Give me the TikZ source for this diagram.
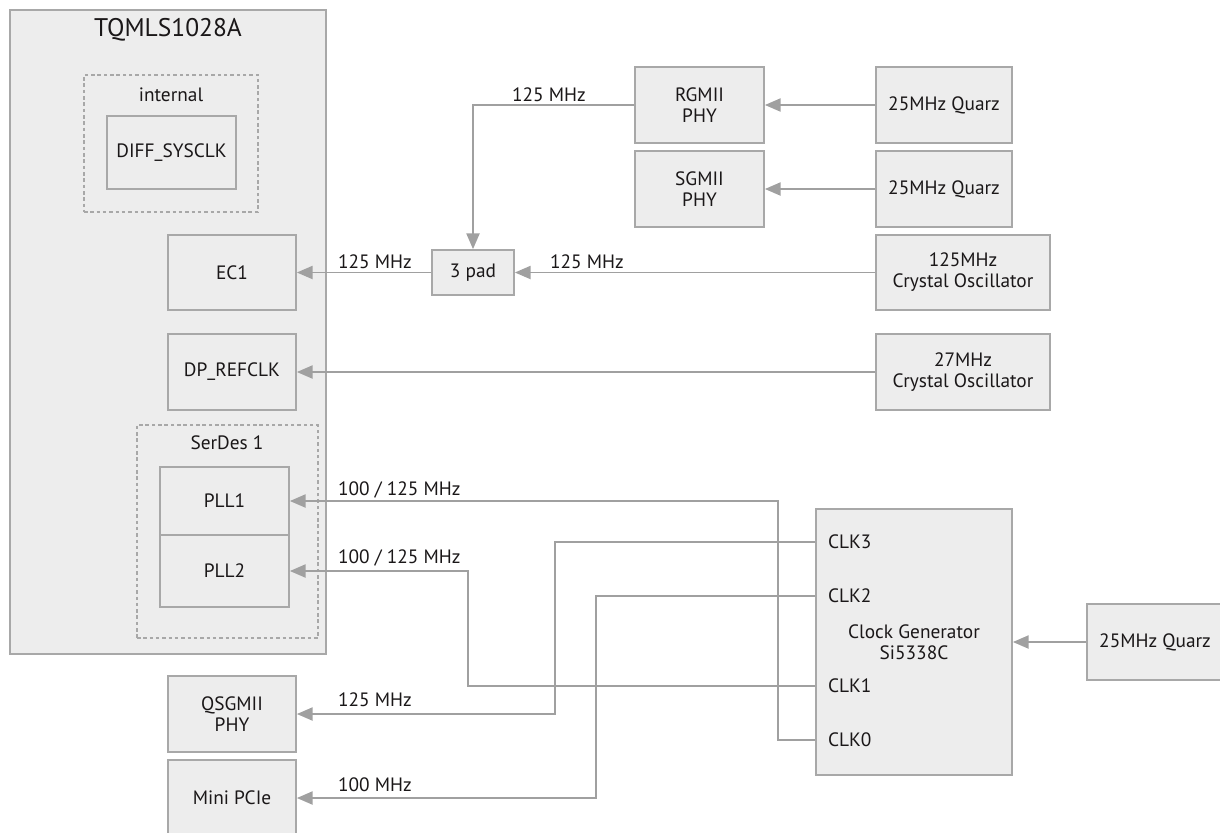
\documentclass[tikz,border=0pt]{standalone}
\usepackage{fontspec}
\setmainfont{PT Sans}
\usetikzlibrary{arrows.meta}
\definecolor{cFill}{HTML}{EDEDED}
\definecolor{cEdge}{HTML}{A8A8A8}
\definecolor{cLine}{HTML}{A0A0A0}
\definecolor{cText}{HTML}{1A1718}
\tikzset{
  blk/.style={
    rectangle, draw=cEdge, fill=cFill, line width=1pt,
    align=center, text=cText, inner sep=1pt,
    font=\fontsize{11}{12}\selectfont
  },
  grp/.style={rectangle, draw=cEdge, line width=0.8pt, dash pattern=on 2pt off 1.6pt},
  arrow/.style={-{Triangle[length=9pt, width=7.5pt]}, line width=1pt, cLine},
  lbl/.style={font=\fontsize{11}{12}\selectfont, text=cText, inner sep=1pt},
}

\begin{document}
\begin{tikzpicture}[x=0.2mm, y=-0.2mm]
  \useasboundingbox (0,0) rectangle (1220,832);

  % Module
  \node[blk, minimum width=6.32cm, minimum height=12.88cm] (chip) at (168,332) {};
  \node[lbl, font=\fontsize{14.5}{16}\selectfont] (chiptitle) at (168,30) {TQMLS1028A};

  % internal clock
  \node[grp, minimum width=3.48cm, minimum height=2.74cm] (internal) at (171,143.5) {};
  \node[lbl] (internaltitle) at (171,95) {internal};
  \node[blk, minimum width=2.58cm, minimum height=1.46cm] (diffsys) at (171.5,152.5) {DIFF\_SYSCLK};

  % Clock inputs
  \node[blk, minimum width=2.56cm, minimum height=1.5cm] (ec1) at (232,272.5) {EC1};
  \node[blk, minimum width=2.56cm, minimum height=1.52cm] (dpref) at (232,372) {DP\_REFCLK};

  % SerDes
  \node[grp, minimum width=3.62cm, minimum height=4.26cm] (serdes) at (227.5,531.5) {};
  \node[lbl] (serdestitle) at (227,443) {SerDes 1};
  \node[blk, minimum width=2.58cm, minimum height=1.36cm] (pll1) at (224.5,501) {PLL1};
  \node[blk, minimum width=2.58cm, minimum height=1.44cm] (pll2) at (224.5,571) {PLL2};

  % Peripherals
  \node[blk, minimum width=2.56cm, minimum height=1.52cm] (qsgmii) at (232,714) {QSGMII\\PHY};
  \node[blk, minimum width=2.56cm, minimum height=1.52cm] (minipcie) at (232,798) {Mini PCIe};

  \node[blk, minimum width=1.64cm, minimum height=0.9cm] (pad) at (473,272.5) {3 pad};
  \node[blk, minimum width=2.58cm, minimum height=1.52cm] (rgmii) at (699.5,105) {RGMII\\PHY};
  \node[blk, minimum width=2.58cm, minimum height=1.52cm] (sgmii) at (699.5,189) {SGMII\\PHY};

  % Oscillators
  \node[blk, minimum width=2.72cm, minimum height=1.52cm] (quarz1) at (944,105) {25MHz Quarz};
  \node[blk, minimum width=2.72cm, minimum height=1.52cm] (quarz2) at (944,189) {25MHz Quarz};
  \node[blk, minimum width=3.48cm, minimum height=1.5cm] (osc125) at (963,272.5) {125MHz\\Crystal Oscillator};
  \node[blk, minimum width=3.48cm, minimum height=1.52cm] (osc27) at (963,372) {27MHz\\Crystal Oscillator};

  % Clock generator
  \node[blk, minimum width=3.92cm, minimum height=5.32cm] (clkgen) at (914,642) {Clock Generator\\Si5338C};
  \node[lbl, anchor=west] (clk3) at (826,542) {CLK3};
  \node[lbl, anchor=west] (clk2) at (826,596) {CLK2};
  \node[lbl, anchor=west] (clk1) at (826,686) {CLK1};
  \node[lbl, anchor=west] (clk0) at (826,740) {CLK0};
  \node[blk, minimum width=2.72cm, minimum height=1.52cm] (quarz3) at (1155,642) {25MHz Quarz};

  % Arrows
  \draw[arrow] (quarz1) -- (rgmii);
  \draw[arrow] (quarz2) -- (sgmii);
  \draw[arrow] (rgmii.west) -| (pad.north);
  \draw[arrow] (osc125) -- (pad);
  \draw[arrow] (pad) -- (ec1);
  \draw[arrow] (osc27) -- (dpref);
  \draw[arrow] (quarz3) -- (clkgen);
  \draw[arrow] (clkgen.west |- clk0) -- ++(-37,0) |- (pll1.east);
  \draw[arrow] (clkgen.west |- clk1) -- ++(-347,0) |- (pll2.east);
  \draw[arrow] (clkgen.west |- clk3) -- ++(-260,0) |- (qsgmii.east);
  \draw[arrow] (clkgen.west |- clk2) -- ++(-219,0) |- (minipcie.east);

  % Frequencies
  \node[lbl, anchor=west] (frgmii) at (510,95) {125 MHz};
  \node[lbl, anchor=west] (fosc) at (548,262) {125 MHz};
  \node[lbl, anchor=west] (fec1) at (336,262) {125 MHz};
  \node[lbl, anchor=west] (fpll1) at (336,490) {100 / 125 MHz};
  \node[lbl, anchor=west] (fpll2) at (336,558) {100 / 125 MHz};
  \node[lbl, anchor=west] (fqsgmii) at (336,700) {125 MHz};
  \node[lbl, anchor=west] (fpcie) at (336,785) {100 MHz};

\end{tikzpicture}
\end{document}
